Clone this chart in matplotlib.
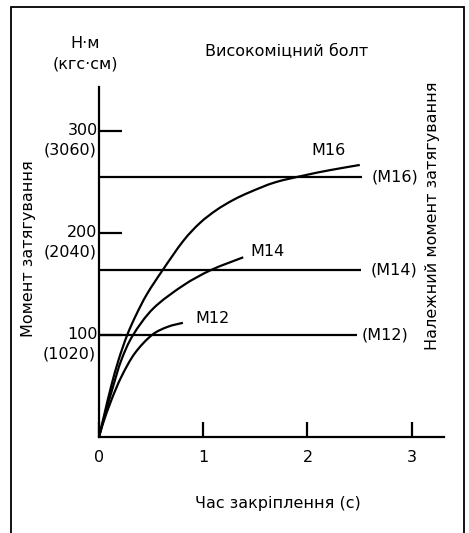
import matplotlib
matplotlib.use("Agg")
import matplotlib.pyplot as plt
from matplotlib.patches import Rectangle, PathPatch
from matplotlib.path import Path

plt.rcParams['font.family'] = ['DejaVu Sans']

# tightening curves: time (s) -> torque (N·m)
m16_t = [0, 0.053, 0.115, 0.187, 0.270, 0.355, 0.460, 0.611, 0.808, 0.968,
         1.128, 1.288, 1.448, 1.687, 1.975, 2.215, 2.502]
m16_y = [0, 23.0, 49.1, 75.3, 99.8, 119.4, 140.0, 163.6, 192.1, 209.7,
         222.5, 232.3, 240.0, 249.5, 256.5, 261.5, 266.6]
m14_t = [0, 0.060, 0.134, 0.214, 0.326, 0.521, 0.808, 1.074, 1.384]
m14_y = [0, 23.0, 49.1, 75.3, 99.8, 126.0, 148.5, 163.6, 176.1]
m12_t = [0, 0.038, 0.118, 0.214, 0.342, 0.506, 0.657, 0.805]
m12_y = [0, 13.2, 36.0, 58.9, 81.8, 99.8, 107.9, 111.9]

# required tightening torque levels and where their lines end
req_names = ['(M16)', '(M14)', '(M12)']
req_levels = [255, 164, 100]
req_ends = [2.52, 2.51, 2.48]
req_label_x = [2.62, 2.61, 2.52]

x_ticks = [0, 1, 2, 3]
y_ticks = [100, 200, 300]
y_ticks_kgf = ['(1020)', '(2040)', '(3060)']

fs = 11.5
lw = 1.6


def smooth_curve(ax, xs, ys):
    # catmull-rom through the read points, drawn as bezier segments
    pts = list(zip(xs, ys))
    ext = [pts[0]] + pts + [pts[-1]]
    verts = [pts[0]]
    codes = [Path.MOVETO]
    for i in range(1, len(ext) - 2):
        p0, p1, p2, p3 = ext[i - 1], ext[i], ext[i + 1], ext[i + 2]
        c1 = (p1[0] + (p2[0] - p0[0]) / 6, p1[1] + (p2[1] - p0[1]) / 6)
        c2 = (p2[0] - (p3[0] - p1[0]) / 6, p2[1] - (p3[1] - p1[1]) / 6)
        verts += [c1, c2, p2]
        codes += [Path.CURVE4] * 3
    ax.add_patch(PathPatch(Path(verts, codes), fill=False, lw=lw,
                           ec='black', capstyle='butt'))


fig = plt.figure(figsize=(4.69, 5.33), dpi=100)
fig.patches.append(Rectangle((11/469, -0.02), (464-11)/469, 1-7/533+0.02,
                             transform=fig.transFigure, fill=False,
                             lw=1.3, ec='black'))

ax = fig.add_axes([99/469, 96/533, (444-99)/469, 350/533])
ax.set_xlim(0, 3.31)
ax.set_ylim(0, 343)
ax.patch.set_alpha(0)
for s in ['top', 'right']:
    ax.spines[s].set_visible(False)
for s in ['left', 'bottom']:
    ax.spines[s].set_linewidth(lw)

smooth_curve(ax, m16_t, m16_y)
smooth_curve(ax, m14_t, m14_y)
smooth_curve(ax, m12_t, m12_y)

for name, lev, end, lx in zip(req_names, req_levels, req_ends, req_label_x):
    ax.hlines(lev, 0, end, color='black', lw=lw)
    ax.text(lx, lev, name, fontsize=fs, ha='left', va='center')

ax.text(2.04, 281, 'M16', fontsize=fs, ha='left', va='center')
ax.text(1.45, 182, 'M14', fontsize=fs, ha='left', va='center')
ax.text(0.92, 116, 'M12', fontsize=fs, ha='left', va='center')

ax.set_xticks(x_ticks)
ax.set_xticklabels([str(t) for t in x_ticks])
ax.tick_params(axis='x', direction='in', length=11, width=lw, pad=9,
               labelsize=fs)
ax.set_yticks(y_ticks)
ax.set_yticklabels([''] * len(y_ticks))
ax.tick_params(axis='y', direction='in', length=16.5, width=lw)
for v, k in zip(y_ticks, y_ticks_kgf):
    ax.annotate(str(v), (0, v), xytext=(-1, 0), textcoords='offset points',
                ha='right', va='center', fontsize=fs)
    ax.annotate(k, (0, v), xytext=(-2, -14), textcoords='offset points',
                ha='right', va='center', fontsize=fs)

fig.text(287/469, 1-52/533, 'Високоміцний болт', fontsize=fs,
         ha='center', va='center')
fig.text(85/469, 1-43/533, 'Н·м', fontsize=fs, ha='center', va='center')
fig.text(85/469, 1-64/533, '(кгс·см)', fontsize=fs, ha='center', va='center')
fig.text(28/469, 1-249/533, 'Момент затягування', fontsize=fs,
         ha='center', va='center', rotation=90)
fig.text(432/469, 1-216/533, 'Належний момент затягування', fontsize=fs,
         ha='center', va='center', rotation=90)
fig.text(278/469, 1-503/533, 'Час закріплення (с)', fontsize=fs,
         ha='center', va='center')

fig.savefig('out.png', dpi=100)
